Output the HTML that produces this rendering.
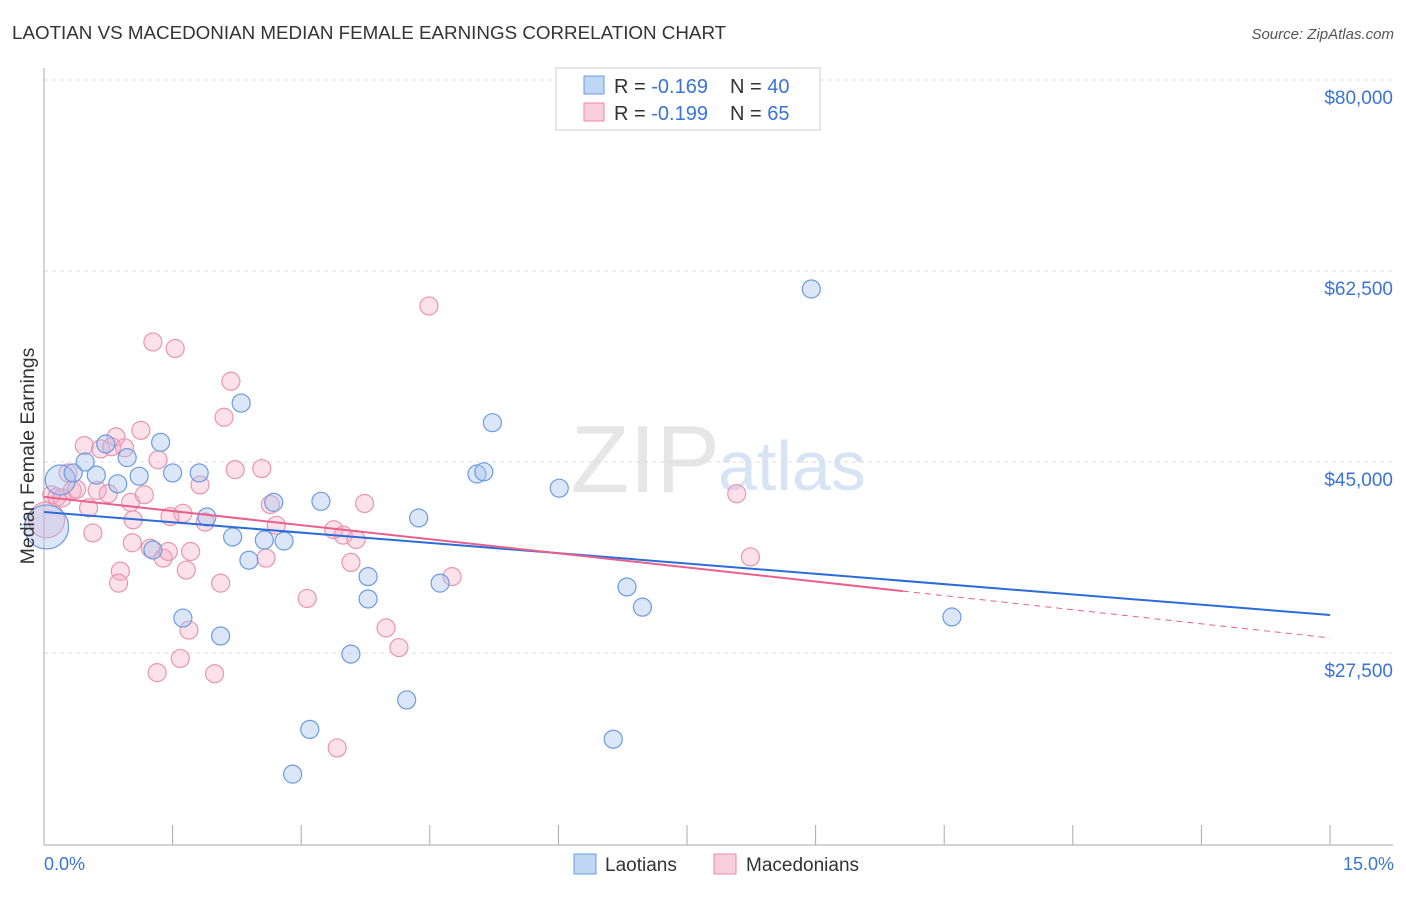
<!DOCTYPE html>
<html><head><meta charset="utf-8"><style>
body{margin:0;background:#fff;font-family:"Liberation Sans",sans-serif}
svg text{font-family:"Liberation Sans",sans-serif}
</style></head><body>
<svg id="chart" width="1406" height="892" viewBox="0 0 1406 892" xmlns="http://www.w3.org/2000/svg">
<text x="12" y="39" font-size="18.8" fill="#333">LAOTIAN VS MACEDONIAN MEDIAN FEMALE EARNINGS CORRELATION CHART</text>
<text x="1394" y="39" font-size="15" fill="#555" font-style="italic" text-anchor="end">Source: ZipAtlas.com</text>
<text x="720" y="492" font-size="96" fill="#e6e6e6" text-anchor="end" font-family="Liberation Serif">ZIP</text>
<text x="718" y="490" font-size="70" fill="#d6e4f5">atlas</text>
<g id="grid"></g>
<g id="axes"></g>
<g id="pts"></g>
<g id="lines"></g>
<text transform="translate(34,456) rotate(-90)" font-size="19.5" fill="#333" text-anchor="middle">Median Female Earnings</text>
<text x="44" y="870" font-size="18" fill="#3a74d6">0.0%</text>
<text x="1394" y="870" font-size="18" fill="#3a74d6" text-anchor="end">15.0%</text>
<g>
<rect x="556" y="68" width="264" height="62" fill="#fff" stroke="#ccc"/>
<rect x="584" y="76" width="20" height="18" fill="rgba(164,196,240,0.7)" stroke="#6b9be0"/>
<rect x="584" y="103" width="20" height="18" fill="rgba(245,185,205,0.7)" stroke="#e88aa8"/>
<text x="614" y="93" font-size="20" fill="#333">R = <tspan fill="#3a74d6">-0.169</tspan><tspan x="730">N = </tspan><tspan fill="#3a74d6">40</tspan></text>
<text x="614" y="120" font-size="20" fill="#333">R = <tspan fill="#3a74d6">-0.199</tspan><tspan x="730">N = </tspan><tspan fill="#3a74d6">65</tspan></text>
</g>
<g>
<rect x="574" y="854" width="22" height="20" fill="rgba(164,196,240,0.7)" stroke="#6b9be0"/>
<text x="605" y="871" font-size="19" fill="#333">Laotians</text>
<rect x="714" y="854" width="22" height="20" fill="rgba(245,185,205,0.7)" stroke="#e88aa8"/>
<text x="746" y="871" font-size="19" fill="#333">Macedonians</text>
</g>
</svg>
<script>
const yTicks=[80000,62500,45000,27500];
const yTickLabels=["$80,000","$62,500","$45,000","$27,500"];
const xTicks=[0,1.5,3,4.5,6,7.5,9,10.5,12,13.5,15];
const laoX=[0.03,0.19,0.34,0.48,0.61,0.72,0.86,0.97,1.11,1.27,1.36,1.50,1.62,1.81,1.90,2.06,2.20,2.30,2.39,2.57,2.68,2.80,2.90,3.10,3.23,3.58,3.78,3.78,4.23,4.37,4.62,5.05,5.13,5.23,6.01,6.64,6.80,6.98,8.95,10.59];
const laoY=[39.05,43.35,44.0,45.0,43.8,46.65,43.0,45.4,43.7,36.94,46.8,44.0,30.7,44.0,39.96,29.06,38.13,50.4,36.0,37.85,41.3,37.76,16.4,20.5,41.4,27.4,34.5,32.45,23.2,39.87,33.9,43.9,44.1,48.6,42.6,19.6,33.55,31.7,60.85,30.8];
const macX=[0.03,0.09,0.15,0.21,0.28,0.33,0.38,0.47,0.52,0.57,0.62,0.66,0.75,0.79,0.84,0.89,0.87,0.94,1.01,1.04,1.03,1.13,1.17,1.24,1.27,1.33,1.32,1.39,1.45,1.47,1.53,1.59,1.62,1.66,1.69,1.71,1.82,1.88,1.99,2.06,2.10,2.18,2.23,2.54,2.59,2.64,2.71,3.07,3.38,3.42,3.49,3.58,3.64,3.74,3.99,4.14,4.49,4.76,8.08,8.24];
const macY=[39.7,42.0,41.8,41.7,44.0,42.4,42.5,46.5,40.8,38.5,42.4,46.2,42.1,46.4,47.3,35.0,33.9,46.3,41.3,39.7,37.6,47.9,42.0,37.1,56.0,45.2,25.7,36.2,36.8,40.0,55.4,27.0,40.3,35.1,29.6,36.8,42.9,39.5,25.6,33.9,49.1,52.4,44.3,44.4,36.2,41.1,39.2,32.5,38.8,18.8,38.3,35.8,37.9,41.2,29.8,28.0,59.3,34.5,42.1,36.3];
const laoTrend=[40.42,30.98];
const macTrend=[41.80,28.88];
const macSolidEnd=10.02;

const NS="http://www.w3.org/2000/svg";
const X0=44,X1=1330,Y80=80,PXPER=191/17500;
function sx(p){return X0+(p/15)*(X1-X0);}
function sy(v){return Y80+(80000-v)*PXPER;}
function mk(tag,attrs,parent){const e=document.createElementNS(NS,tag);for(const k in attrs)e.setAttribute(k,attrs[k]);parent.appendChild(e);return e;}
const grid=document.getElementById('grid'),axes=document.getElementById('axes'),pts=document.getElementById('pts'),lines=document.getElementById('lines');
yTicks.forEach((v,i)=>{
 const l=mk('line',{x1:X0,x2:1393,y1:sy(v),y2:sy(v),stroke:'#ddd','stroke-dasharray':'4,4'},grid);
 
 
 const t=mk('text',{x:1393,y:sy(v)+24,'font-size':19,fill:'#3a74d6','text-anchor':'end'},grid);
 t.textContent=yTickLabels[i];
 
 
});
const ya=mk('line',{x1:X0,x2:X0,y1:68,y2:845,stroke:'#aaa'},axes);


const xa=mk('line',{x1:X0,x2:1393,y1:845,y2:845,stroke:'#aaa'},axes);


xTicks.forEach(p=>{
 const t=mk('line',{x1:sx(p),x2:sx(p),y1:825,y2:845,stroke:'#aaa'},axes);
 
 
});
macX.forEach((p,i)=>{
 const c=mk('circle',{cx:sx(p),cy:sy(macY[i]*1000),r:i===0?18:9,fill:'rgba(245,170,195,0.35)',stroke:'#e995b0','stroke-width':1.2},pts);
 
 
});
laoX.forEach((p,i)=>{
 const c=mk('circle',{cx:sx(p),cy:sy(laoY[i]*1000),r:i===0?22:(i===1?15:9),fill:'rgba(164,196,240,0.4)',stroke:'#6b9be0','stroke-width':1.2},pts);
 
 
});
const lt=mk('line',{x1:sx(0),y1:sy(laoTrend[0]*1000),x2:sx(15),y2:sy(laoTrend[1]*1000),stroke:'#2a6dd9','stroke-width':2},lines);


function my(p){return macTrend[0]+(macTrend[1]-macTrend[0])*p/15;}
const ms=mk('line',{x1:sx(0),y1:sy(my(0)*1000),x2:sx(macSolidEnd),y2:sy(my(macSolidEnd)*1000),stroke:'#e8608c','stroke-width':2},lines);


const md=mk('line',{x1:sx(macSolidEnd),y1:sy(my(macSolidEnd)*1000),x2:sx(15),y2:sy(my(15)*1000),stroke:'#e8608c','stroke-width':1,'stroke-dasharray':'6,5'},lines);


</script>
</body></html>
